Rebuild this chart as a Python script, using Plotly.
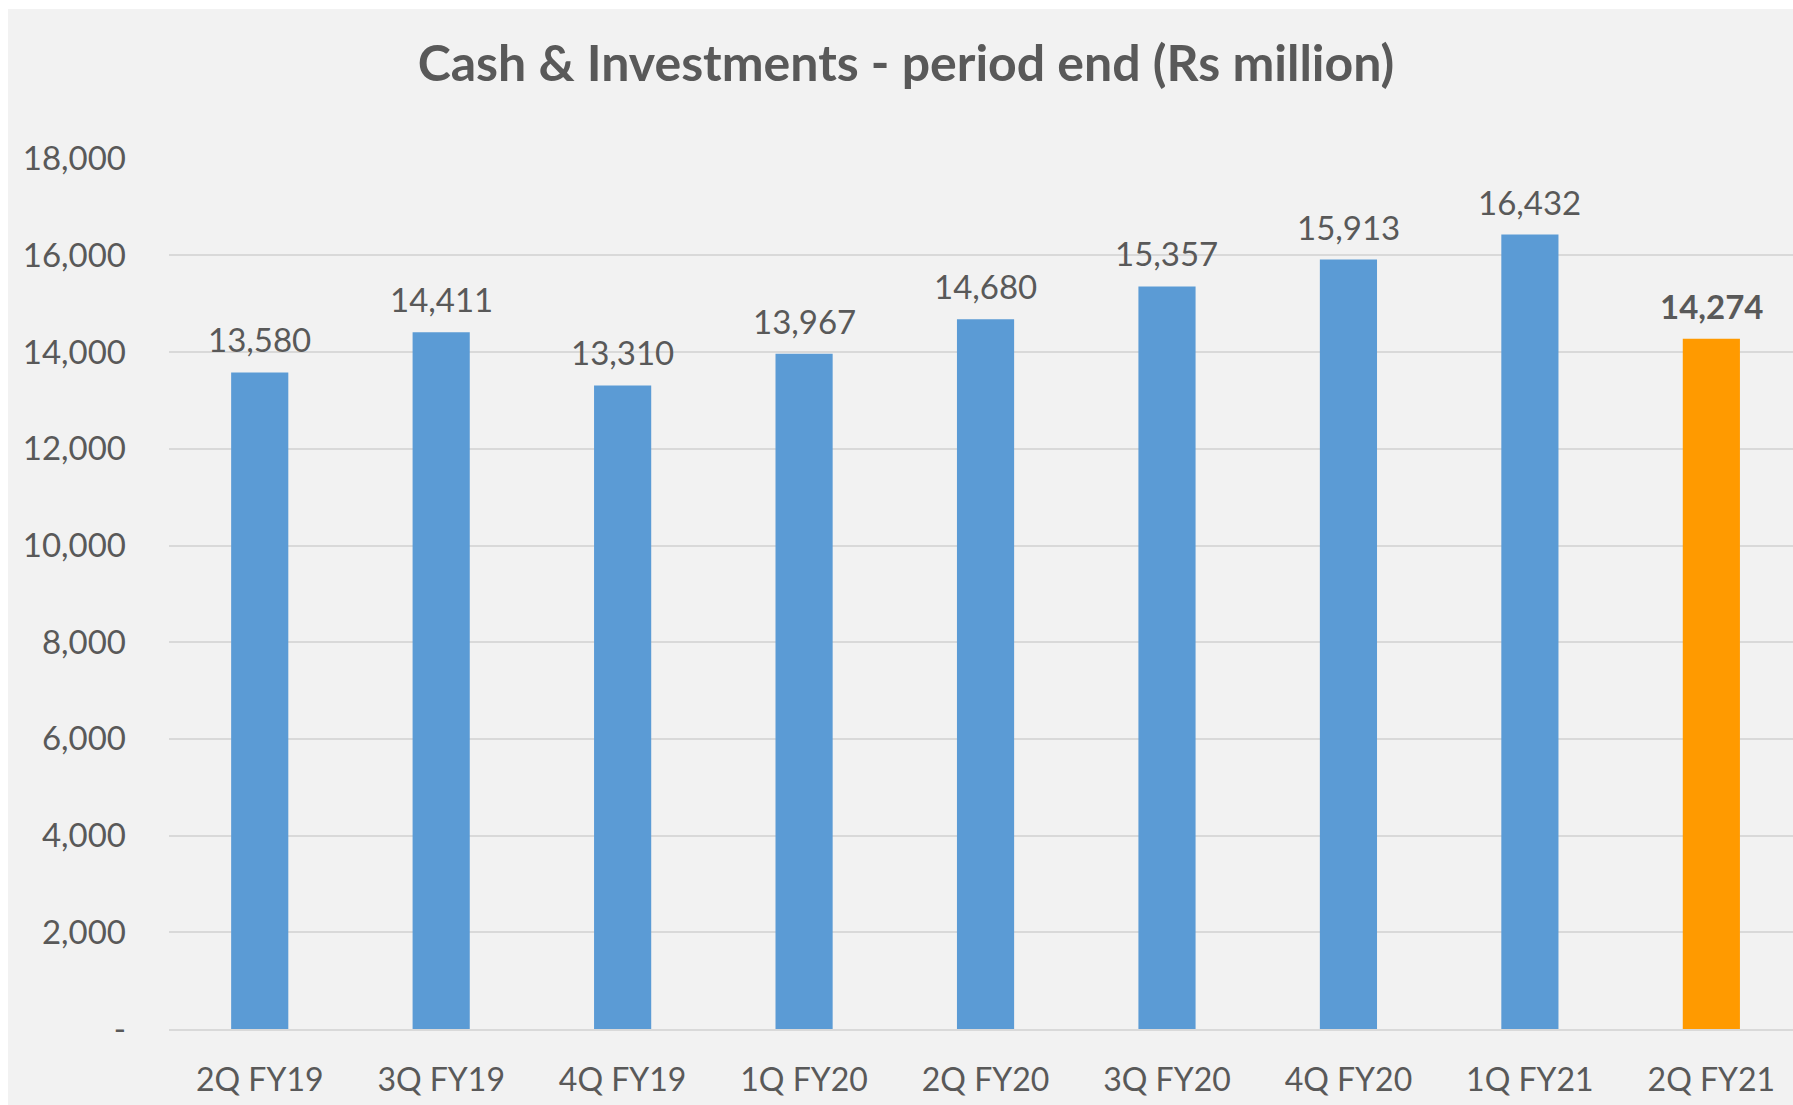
import plotly.graph_objects as go

# Quarter-end cash & investments (Rs million)
quarters = ["2Q FY19", "3Q FY19", "4Q FY19", "1Q FY20", "2Q FY20",
            "3Q FY20", "4Q FY20", "1Q FY21", "2Q FY21"]
cash_investments = [13580, 14411, 13310, 13967, 14680, 15357, 15913, 16432, 14274]

y_tick_values = [0, 2000, 4000, 6000, 8000, 10000, 12000, 14000, 16000, 18000]
y_tick_labels = ["-", "2,000", "4,000", "6,000", "8,000", "10,000",
                 "12,000", "14,000", "16,000", "18,000"]

BLUE = "#5B9BD5"
ORANGE = "#FF9A00"
TEXT = "#595959"
GRID = "#D9D9D9"
BG = "#F2F2F2"
FONT = "Lato"

W, H = 1793, 1105
ML, MR, MT, MB = 169, 0, 158, 76
plot_w = W - ML - MR
plot_h = H - MT - MB

colors = [BLUE] * (len(quarters) - 1) + [ORANGE]

fig = go.Figure()
fig.add_trace(go.Bar(
    x=quarters,
    y=cash_investments,
    marker=dict(color=colors, line=dict(width=0)),
    width=0.315,
    hoverinfo="x+y",
))

# value labels above each bar; latest quarter in bold
for i, (q, v) in enumerate(zip(quarters, cash_investments)):
    txt = f"{v:,}"
    if i == len(quarters) - 1:
        txt = f"<b>{txt}</b>"
    fig.add_annotation(
        x=q, y=v, text=txt, showarrow=False,
        xref="x", yref="y", yanchor="bottom", yshift=11,
        font=dict(family=FONT, size=33, color=TEXT),
    )

# grey chart panel with a thin white margin on the top and left
fig.add_shape(
    type="rect", xref="paper", yref="paper", layer="below",
    x0=(8 - ML) / plot_w, x1=1.02,
    y0=-(MB + 5) / plot_h, y1=(H - MB - 9) / plot_h,
    fillcolor=BG, line=dict(width=0),
)

fig.update_layout(
    width=W, height=H,
    margin=dict(l=ML, r=MR, t=MT, b=MB, pad=0),
    paper_bgcolor="white",
    plot_bgcolor=BG,
    showlegend=False,
    bargap=0.685,
    title=dict(
        text="<b>Cash & Investments - period end (Rs million)</b>",
        x=906 / W, xref="container", xanchor="center",
        y=1 - 63 / H, yref="container", yanchor="middle",
        font=dict(family=FONT, size=50, color=TEXT),
    ),
    font=dict(family=FONT, color=TEXT),
)

fig.update_xaxes(
    type="category",
    range=[-0.5, 8.45],
    showgrid=False,
    showline=True, linecolor=GRID, linewidth=2,
    ticks="", ticklabelstandoff=22,
    tickfont=dict(family=FONT, size=32, color=TEXT),
    fixedrange=True,
)

fig.update_yaxes(
    range=[0, 18000 * 1.0008],
    tickvals=y_tick_values, ticktext=y_tick_labels,
    showgrid=True, gridcolor=GRID, gridwidth=1.5,
    zeroline=False, showline=False,
    ticks="", ticklabelstandoff=42,
    tickfont=dict(family=FONT, size=33, color=TEXT),
    fixedrange=True,
)

fig.write_html("out.html")
